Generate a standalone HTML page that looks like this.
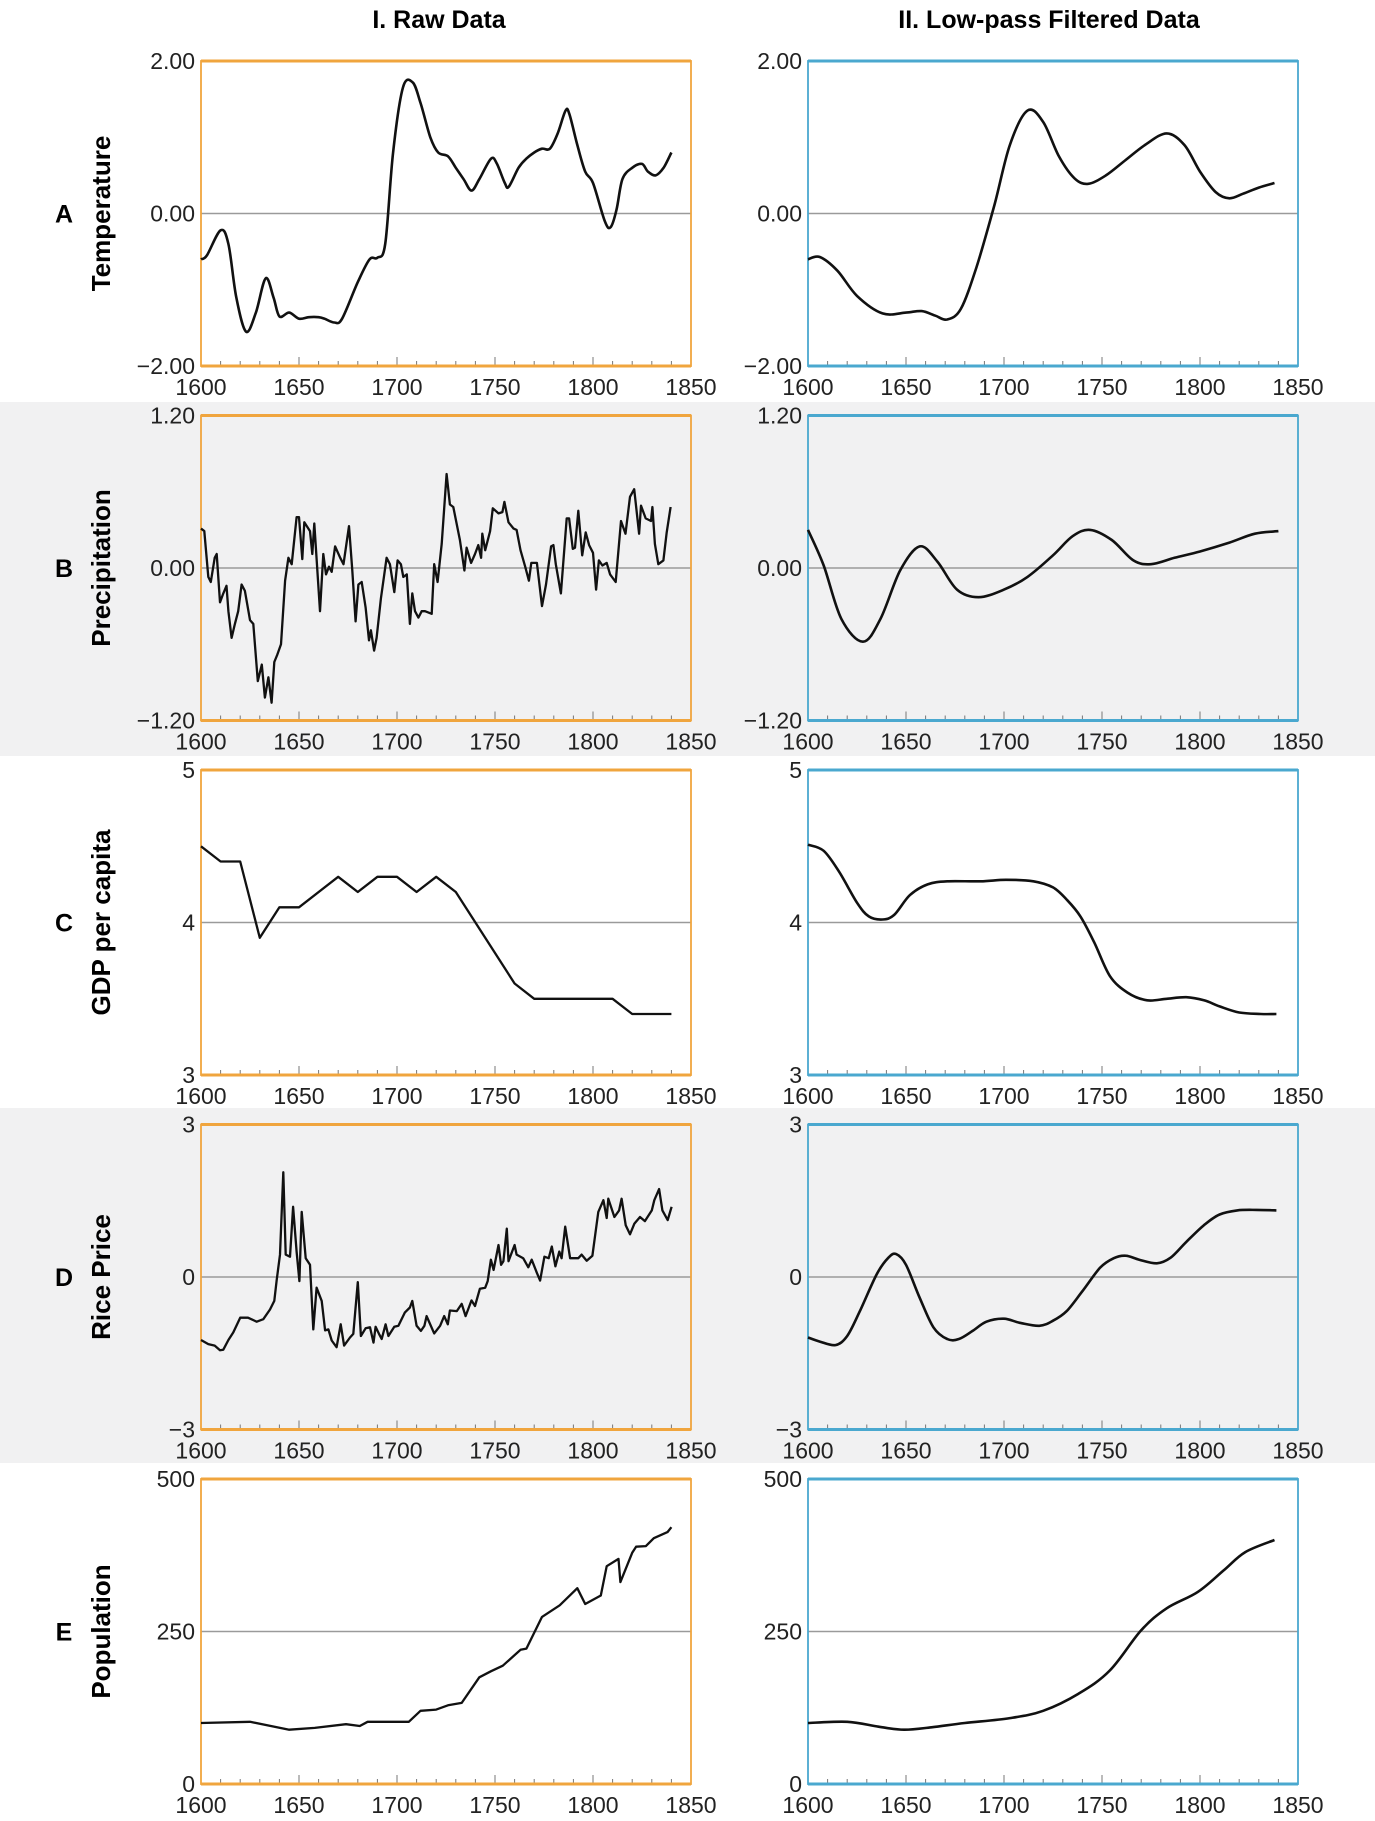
<!DOCTYPE html>
<html><head><meta charset="utf-8"><style>
html,body{margin:0;padding:0;background:#fff;}
svg{display:block;font-family:"Liberation Sans",Arial,sans-serif;}
</style></head>
<body>
<svg id="fig" width="1375" height="1821" viewBox="0 0 1375 1821" xmlns="http://www.w3.org/2000/svg">
<rect x="0" y="402" width="1375" height="354" fill="#f1f1f2"/>
<rect x="0" y="1108" width="1375" height="355" fill="#f1f1f2"/>
<text x="439" y="28" font-size="25" font-weight="bold" text-anchor="middle">I. Raw Data</text>
<text x="1049" y="28" font-size="25" font-weight="bold" text-anchor="middle">II. Low-pass Filtered Data</text>
<g id="plots"></g>
</svg>
<script>
// ---- data ----
const xTicks = [1600,1650,1700,1750,1800,1850];
const rowLetters = ["A","B","C","D","E"];
const rowTitles = ["Temperature","Precipitation","GDP per capita","Rice Price","Population"];
const yMin = [-2,-1.2,3,-3,0];
const yMax = [2,1.2,5,3,500];
const yTickLabels = [["2.00","0.00","\u22122.00"],["1.20","0.00","\u22121.20"],["5","4","3"],["3","0","\u22123"],["500","250","0"]];

const tempRawYears = [1600,1603,1610,1614,1618,1623,1628,1633,1637,1640,1645,1650,1655,1660,1663,1668,1672,1680,1686,1690,1694,1698,1703,1708,1712,1717,1721,1726,1730,1734,1738,1742,1748,1751,1755,1757,1762,1766,1770,1774,1778,1782,1786,1788,1792,1796,1800,1806,1809,1812,1815,1820,1825,1828,1832,1836,1840];
const tempRawValues = [-0.6,-0.55,-0.22,-0.4,-1.1,-1.55,-1.3,-0.85,-1.1,-1.35,-1.3,-1.38,-1.36,-1.36,-1.38,-1.43,-1.38,-0.9,-0.6,-0.58,-0.4,0.8,1.65,1.72,1.45,1.0,0.8,0.75,0.6,0.45,0.3,0.45,0.72,0.65,0.4,0.35,0.6,0.72,0.8,0.85,0.85,1.05,1.35,1.3,0.9,0.55,0.4,-0.1,-0.18,0.05,0.45,0.6,0.65,0.55,0.5,0.6,0.8];
const tempFiltYears = [1600,1606,1615,1625,1638,1650,1658,1665,1671,1678,1686,1695,1703,1712,1720,1728,1736,1743,1752,1762,1772,1783,1792,1800,1808,1815,1822,1830,1838];
const tempFiltValues = [-0.6,-0.57,-0.75,-1.08,-1.31,-1.3,-1.28,-1.34,-1.39,-1.25,-0.7,0.1,0.9,1.35,1.2,0.75,0.46,0.39,0.5,0.7,0.9,1.05,0.9,0.55,0.28,0.2,0.26,0.34,0.4];

const precRawYears = [1600,1601.7,1603.7,1605,1607,1608,1609.7,1611.4,1613,1614,1615.6,1617.3,1619,1620.7,1622.4,1625,1626.7,1629,1631,1632.6,1634.4,1636,1637.4,1639,1640.8,1642.9,1644.6,1646.3,1648.8,1650,1651.7,1652.7,1655.6,1656.8,1657.8,1660.7,1662.4,1663.8,1665.3,1666.7,1668.4,1671,1672.7,1675.5,1677.2,1678.9,1680.3,1682,1684,1685.7,1686.7,1688.3,1689.6,1691.8,1694.7,1696.4,1698.6,1700.3,1702,1703.2,1705,1706.6,1707.8,1709.2,1710.9,1712.6,1714.3,1717.7,1719,1720.7,1722.8,1725.3,1727,1728.7,1732.1,1734.4,1735.5,1737.8,1739.8,1741.5,1742.9,1743.5,1745,1747.5,1748.9,1751.8,1753.8,1754.8,1756.9,1759.5,1761,1763,1765.4,1767.3,1768.5,1771.4,1774,1776,1778.6,1779.8,1781,1783.6,1786.6,1787.8,1789.7,1790.8,1792.5,1794.5,1796.3,1798,1800,1801.6,1803,1804.8,1807,1808.7,1811.6,1814.3,1816.6,1818.9,1821,1823.5,1824.5,1826.9,1829.6,1830.3,1831.6,1833.3,1835.9,1837.6,1839.6];
const precRawValues = [0.31,0.29,-0.07,-0.11,0.08,0.11,-0.27,-0.2,-0.14,-0.34,-0.55,-0.44,-0.34,-0.13,-0.18,-0.41,-0.44,-0.89,-0.76,-1.02,-0.86,-1.06,-0.74,-0.68,-0.6,-0.1,0.08,0.03,0.4,0.4,0.07,0.36,0.29,0.11,0.35,-0.34,0.11,-0.05,0.01,-0.03,0.17,0.08,0.03,0.33,-0.02,-0.42,-0.13,-0.11,-0.31,-0.57,-0.49,-0.65,-0.55,-0.24,0.08,0.03,-0.19,0.06,0.03,-0.07,-0.05,-0.44,-0.2,-0.34,-0.39,-0.34,-0.34,-0.36,0.03,-0.11,0.19,0.74,0.5,0.48,0.22,-0.02,0.16,0.04,0.11,0.18,0.08,0.27,0.14,0.29,0.47,0.43,0.44,0.52,0.36,0.31,0.3,0.14,0.01,-0.1,0.04,0.04,-0.3,-0.13,0.17,0.18,0.03,-0.2,0.39,0.39,0.15,0.16,0.45,0.1,0.28,0.18,0.12,-0.17,0.06,0.02,0.04,-0.05,-0.11,0.37,0.27,0.56,0.62,0.27,0.49,0.39,0.37,0.48,0.19,0.03,0.06,0.28,0.48];
const precFiltYears = [1600,1608,1617,1628,1637,1647,1657,1666,1676,1687,1700,1712,1725,1735,1744,1755,1766,1775,1787,1800,1815,1828,1840];
const precFiltValues = [0.3,0.02,-0.4,-0.58,-0.4,-0.02,0.17,0.05,-0.17,-0.23,-0.17,-0.07,0.1,0.25,0.3,0.22,0.06,0.03,0.08,0.13,0.2,0.27,0.29];

const gdpRawYears = [1600,1610,1620,1630,1640,1650,1670,1680,1690,1700,1710,1720,1730,1760,1770,1810,1820,1840];
const gdpRawValues = [4.5,4.4,4.4,3.9,4.1,4.1,4.3,4.2,4.3,4.3,4.2,4.3,4.2,3.6,3.5,3.5,3.4,3.4];
const gdpFiltYears = [1600,1608,1616,1625,1631,1638,1644,1652,1661,1671,1688,1701,1715,1725,1732,1739,1746,1754,1763,1773,1783,1793,1802,1810,1820,1831,1839];
const gdpFiltValues = [4.51,4.47,4.33,4.13,4.04,4.02,4.05,4.18,4.25,4.27,4.27,4.28,4.27,4.23,4.15,4.04,3.87,3.65,3.54,3.49,3.5,3.51,3.49,3.45,3.41,3.4,3.4];

const riceRawYears = [1600,1603.7,1607,1609.7,1611.4,1614,1616.5,1620,1624,1628.4,1631.8,1635.2,1637.4,1638.6,1640.3,1642,1643.2,1645.4,1647,1648.8,1650.2,1651.4,1653.4,1655.6,1657.3,1659,1661.6,1663.3,1665,1666.7,1669.2,1671.3,1673,1676,1677.7,1680,1681.6,1684,1686.2,1688,1689.1,1690.8,1692.2,1694.2,1695.6,1698.6,1700.7,1704,1706.6,1707.8,1710,1712.2,1714,1715.1,1719,1722,1724.1,1725.9,1727,1730.5,1733,1735,1738,1739.8,1742.3,1745,1746.3,1747.9,1749.3,1751.8,1753.1,1754.3,1756,1756.9,1760,1761,1764.4,1767,1768.7,1771.4,1773,1775.2,1777.4,1779,1780.8,1782.8,1784,1785.8,1788.3,1792.5,1794.2,1796.8,1799.7,1802.7,1805.3,1807,1807.8,1810.9,1813.3,1814.6,1816.7,1818.9,1821.1,1824,1826.5,1830,1831.3,1833.7,1835.4,1838.1,1840.1];
const riceRawValues = [-1.24,-1.32,-1.35,-1.44,-1.43,-1.24,-1.09,-0.8,-0.8,-0.88,-0.83,-0.64,-0.47,-0.06,0.44,2.06,0.44,0.4,1.38,0.5,-0.08,1.28,0.37,0.24,-1.03,-0.21,-0.47,-1.05,-1.03,-1.25,-1.38,-0.93,-1.35,-1.19,-1.12,-0.1,-1.16,-1.01,-0.99,-1.29,-0.98,-1.12,-1.22,-0.93,-1.16,-0.98,-0.96,-0.7,-0.6,-0.47,-0.96,-1.06,-0.96,-0.77,-1.11,-0.96,-0.77,-0.93,-0.66,-0.67,-0.53,-0.77,-0.46,-0.57,-0.23,-0.21,-0.08,0.34,0.14,0.63,0.24,0.31,0.95,0.31,0.63,0.44,0.37,0.19,0.34,0.08,-0.07,0.4,0.37,0.6,0.21,0.5,0.37,0.99,0.37,0.37,0.44,0.32,0.42,1.28,1.51,1.16,1.54,1.18,1.31,1.54,1.02,0.84,1.05,1.18,1.1,1.31,1.51,1.73,1.31,1.12,1.38];
const riceFiltYears = [1600,1606,1614,1620,1626.5,1635,1641,1645,1650,1657,1664,1671,1677,1684,1691,1700,1708,1718,1725,1732,1740,1749,1756,1762,1769,1778,1785,1793,1802,1810,1819,1829,1839];
const riceFiltValues = [-1.19,-1.27,-1.34,-1.16,-0.67,0.05,0.38,0.45,0.24,-0.41,-0.99,-1.22,-1.22,-1.06,-0.88,-0.82,-0.9,-0.96,-0.86,-0.67,-0.28,0.18,0.37,0.42,0.34,0.27,0.38,0.69,1.02,1.23,1.31,1.32,1.31];

const popRawYears = [1600,1625,1645,1658,1674,1681,1685,1706,1712,1720,1726,1733,1742,1748,1754,1763,1766,1774,1783,1792,1796,1804,1807,1813,1814,1820,1822,1827,1831,1838,1840];
const popRawValues = [100,102,89,92,98,95,102,102,120,122,129,133,175,185,194,220,222,274,293,321,295,309,357,369,331,379,389,390,403,413,421];
const popFiltYears = [1600,1620,1636,1649,1663,1680,1703,1720,1738,1754,1770,1783,1799,1812,1823,1838];
const popFiltValues = [100,102,94,89,93,100,108,120,148,186,252,288,315,350,380,400];

const rawSeries = [[tempRawYears,tempRawValues,true],[precRawYears,precRawValues,false],[gdpRawYears,gdpRawValues,false],[riceRawYears,riceRawValues,false],[popRawYears,popRawValues,false]];
const filtSeries = [[tempFiltYears,tempFiltValues],[precFiltYears,precFiltValues],[gdpFiltYears,gdpFiltValues],[riceFiltYears,riceFiltValues],[popFiltYears,popFiltValues]];

// ---- drawing ----
const NS = "http://www.w3.org/2000/svg";
const root = document.getElementById("plots");
const colL = {x0:201,x1:691,color:"#f0a53e"};
const colR = {x0:808,x1:1298,color:"#4aa8cf"};
const rowTop = i => 61 + 354.5*i;
const plotH = 305;
function mk(tag, attrs, parent){const e=document.createElementNS(NS,tag);for(const k in attrs)e.setAttribute(k,attrs[k]);(parent||root).appendChild(e);return e;}
function linePath(pts){return pts.map((p,i)=>(i?"L":"M")+p[0].toFixed(1)+","+p[1].toFixed(1)).join("");}
function smoothPath(pts){
  let d="M"+pts[0][0].toFixed(1)+","+pts[0][1].toFixed(1);
  for(let i=0;i<pts.length-1;i++){
    const p0=pts[Math.max(0,i-1)],p1=pts[i],p2=pts[i+1],p3=pts[Math.min(pts.length-1,i+2)];
    const c1=[p1[0]+(p2[0]-p0[0])/6,p1[1]+(p2[1]-p0[1])/6];
    const c2=[p2[0]-(p3[0]-p1[0])/6,p2[1]-(p3[1]-p1[1])/6];
    d+="C"+c1[0].toFixed(1)+","+c1[1].toFixed(1)+" "+c2[0].toFixed(1)+","+c2[1].toFixed(1)+" "+p2[0].toFixed(1)+","+p2[1].toFixed(1);
  }
  return d;
}
function drawPanel(r, col, years, values, smooth, side){
  const top=rowTop(r), bot=top+plotH;
  const xs = y => col.x0 + (y-1600)/(250)*(col.x1-col.x0);
  const ys = v => bot - (v-yMin[r])/(yMax[r]-yMin[r])*plotH;
  const g = mk("g",{});
  
  
  // mid gridline
  const mid = mk("line",{x1:col.x0,x2:col.x1,y1:ys((yMin[r]+yMax[r])/2),y2:ys((yMin[r]+yMax[r])/2),stroke:"#9a9a9a","stroke-width":1.6},g);
  
  
  // ticks
  for(let yr=1600; yr<=1850; yr+=10){
    const major = yr%50===0;
    const t = mk("line",{x1:xs(yr),x2:xs(yr),y1:bot,y2:bot-(major?9:5),stroke:"#777","stroke-width":1},g);
    
    
  }
  // frame
  const fr = mk("rect",{x:col.x0,y:top,width:col.x1-col.x0,height:plotH,fill:"none",stroke:col.color,"stroke-width":1.8},g);
  
  
  const tb = mk("line",{x1:col.x0,x2:col.x1,y1:top,y2:top,stroke:col.color,"stroke-width":3},g);
  
  
  const bb = mk("line",{x1:col.x0,x2:col.x1,y1:bot,y2:bot,stroke:col.color,"stroke-width":3},g);
  
  
  // y labels
  const vals=[yMax[r],(yMin[r]+yMax[r])/2,yMin[r]];
  vals.forEach((v,k)=>{
    const t = mk("text",{x:col.x0-6,y:ys(v)+8,"font-size":23,"text-anchor":"end",fill:"#222"},g);
    t.textContent = yTickLabels[r][k];
    
    
  });
  xTicks.forEach(yr=>{
    const t = mk("text",{x:xs(yr),y:bot+29,"font-size":23,"text-anchor":"middle",fill:"#222"},g);
    t.textContent = String(yr);
    
    
  });
  // series
  const pts = years.map((y,i)=>[xs(y),ys(values[i])]);
  const p = mk("path",{d: smooth?smoothPath(pts):linePath(pts),fill:"none",stroke:"#111","stroke-width":smooth?2.6:2.3,"stroke-linejoin":"round"},g);
  
  
}
for(let r=0;r<5;r++){
  drawPanel(r,colL,rawSeries[r][0],rawSeries[r][1],rawSeries[r][2],'raw');
  drawPanel(r,colR,filtSeries[r][0],filtSeries[r][1],true,'filtered');
  const cy = rowTop(r)+plotH/2;
  const L = mk("text",{x:64,y:cy+9,"font-size":25,"font-weight":"bold","text-anchor":"middle"});
  L.textContent = rowLetters[r];
  
  
  const T = mk("text",{x:0,y:0,"font-size":26,"font-weight":"bold","text-anchor":"middle",transform:"translate(110,"+cy+") rotate(-90)"});
  T.textContent = rowTitles[r];
  
  
}
</script>
</body></html>
